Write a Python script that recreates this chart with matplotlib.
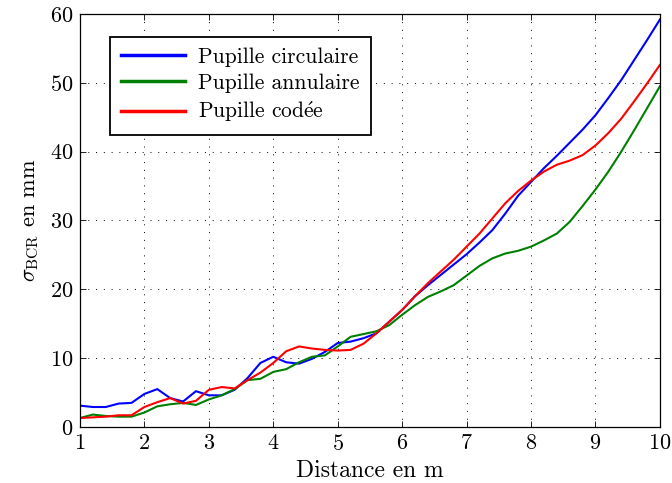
import numpy as np
import matplotlib
matplotlib.use("Agg")
import matplotlib.pyplot as plt

plt.rcParams['font.family'] = 'serif'
plt.rcParams['font.serif'] = ['cmr10']
plt.rcParams['mathtext.fontset'] = 'cm'
plt.rcParams['axes.formatter.use_mathtext'] = True

# distance (m), sampled every 0.2 m
distance = np.round(np.arange(1.0, 10.01, 0.2), 1)

circulaire = [3.1, 2.9, 2.9, 3.4, 3.5, 4.8, 5.5, 4.2, 3.7, 5.2,
              4.6, 4.6, 5.4, 7.1, 9.3, 10.2, 9.4, 9.2, 9.9, 10.9,
              12.2, 12.4, 12.9, 13.6, 15.3, 17.0, 19.0, 20.6, 22.1, 23.6,
              25.1, 26.8, 28.6, 31.0, 33.6, 35.6, 37.6, 39.4, 41.3, 43.2,
              45.3, 47.8, 50.4, 53.3, 56.2, 59.2]
annulaire = [1.3, 1.8, 1.6, 1.5, 1.5, 2.1, 3.0, 3.3, 3.5, 3.2,
             4.0, 4.6, 5.5, 6.8, 7.0, 8.0, 8.4, 9.4, 10.2, 10.4,
             11.7, 13.1, 13.5, 13.9, 14.8, 16.3, 17.7, 18.9, 19.7, 20.6,
             22.0, 23.4, 24.5, 25.2, 25.6, 26.2, 27.1, 28.1, 29.8, 32.1,
             34.5, 37.1, 40.0, 43.1, 46.3, 49.5]
codee = [1.3, 1.4, 1.5, 1.7, 1.7, 2.9, 3.6, 4.2, 3.4, 3.8,
         5.4, 5.8, 5.6, 6.8, 7.9, 9.3, 11.0, 11.7, 11.4, 11.2,
         11.1, 11.2, 12.1, 13.6, 15.3, 17.0, 19.0, 20.9, 22.6, 24.3,
         26.2, 28.1, 30.3, 32.5, 34.3, 35.8, 37.1, 38.1, 38.7, 39.5,
         40.9, 42.7, 44.8, 47.3, 49.9, 52.6]

labels = ['Pupille circulaire', 'Pupille annulaire', r'Pupille cod$\mathrm{\acute{e}}$e']
colors = ['#0000ff', '#008000', '#ff0000']

fig = plt.figure(figsize=(6.72, 4.83), dpi=100)
ax = fig.add_axes([0.119, 0.116, 0.863, 0.855])

for y, lab, c in zip([circulaire, annulaire, codee], labels, colors):
    ax.plot(distance, y, color=c, lw=1.5, label=lab)

ax.set_xlim(1, 10)
ax.set_ylim(0, 60)
ax.set_xticks(range(1, 11))
ax.set_yticks(range(0, 61, 10))
ax.grid(True, color='black', linestyle=(0, (1, 7)), linewidth=0.7)
ax.tick_params(direction='in', top=True, right=True, length=4,
               labelsize=16, width=0.6, pad=5)
for s in ax.spines.values():
    s.set_linewidth(0.9)

ax.set_xlabel('Distance en m', fontsize=17, labelpad=4)
ax.set_ylabel(r'$\sigma_{\rm BCR}$ en mm', fontsize=16, labelpad=6)

leg = ax.legend(loc='upper left', bbox_to_anchor=(0.052, 0.945), fontsize=15.5,
                fancybox=False, framealpha=1, edgecolor='black',
                handlelength=3.0, handletextpad=0.6, borderpad=0.5,
                labelspacing=0.3, borderaxespad=0)
leg.get_frame().set_linewidth(1.3)
for h in leg.get_lines():
    h.set_linewidth(2.5)

fig.savefig('out.png', dpi=100)
